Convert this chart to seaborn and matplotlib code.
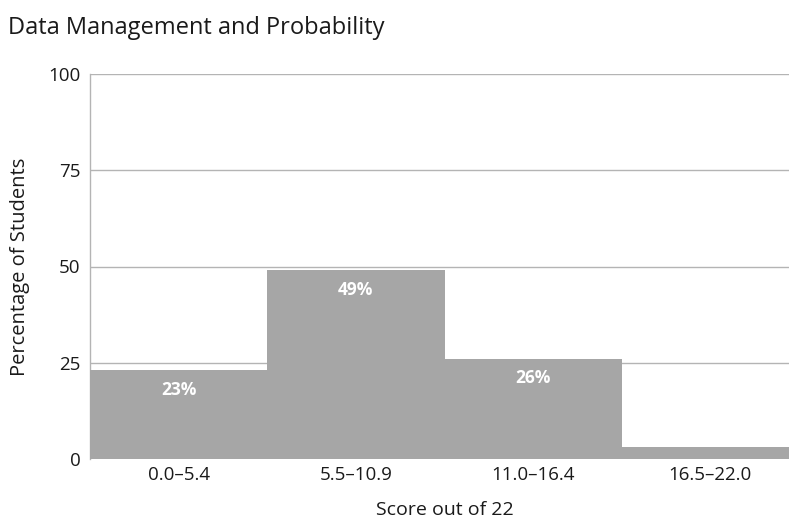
import matplotlib
matplotlib.use("Agg")
import matplotlib.pyplot as plt
import seaborn as sns
import pandas as pd

# Score bands and the share of students in each
score_bands = ["0.0–5.4", "5.5–10.9", "11.0–16.4", "16.5–22.0"]
percent_students = [23, 49, 26, 3]
y_ticks = [0, 25, 50, 75, 100]

title = "Data Management and Probability"
x_title = "Score out of 22"
y_title = "Percentage of Students"

df = pd.DataFrame({"band": score_bands, "pct": percent_students})

sns.set_theme(style="white")
plt.rcParams["font.family"] = ["Open Sans", "DejaVu Sans"]

fig = plt.figure(figsize=(7.89, 5.20), dpi=100)
ax = fig.add_axes([90 / 789, 1 - 459 / 520, 709 / 789, 385 / 520])

sns.barplot(data=df, x="band", y="pct", order=score_bands, color="#a6a6a6",
            saturation=1, width=1.0, linewidth=0, ax=ax, zorder=3)

ax.set_xlim(-0.5, 3.5)
ax.set_ylim(0, 100)
ax.set_yticks(y_ticks)
ax.set_yticklabels([str(t) for t in y_ticks])
for t in y_ticks[1:]:
    ax.axhline(t, color="#b4b4b4", linewidth=1.0, zorder=1)

for side in ["top", "right", "bottom"]:
    ax.spines[side].set_visible(False)
ax.spines["left"].set_color("#b4b4b4")
ax.spines["left"].set_linewidth(1.0)

ax.tick_params(axis="both", length=0, labelsize=13.5, colors="#1a1a1a")
ax.tick_params(axis="y", pad=7)
ax.tick_params(axis="x", pad=5)

ax.set_xlabel(x_title, fontsize=14, color="#1a1a1a", labelpad=12)
ax.set_ylabel(y_title, fontsize=14.5, color="#1a1a1a", labelpad=13)

# Percentage labels inside the bars
for i, v in enumerate(percent_students):
    if v >= 10:
        ax.annotate(f"{v}%", xy=(i, v), xytext=(0, -14), textcoords="offset points",
                    ha="center", va="center", color="white", fontsize=12.5,
                    fontweight="bold", zorder=4)

fig.text(8 / 789, 1 - 28 / 520, title, fontsize=17, color="#1a1a1a",
         ha="left", va="center")

fig.savefig("out.png", dpi=100)
